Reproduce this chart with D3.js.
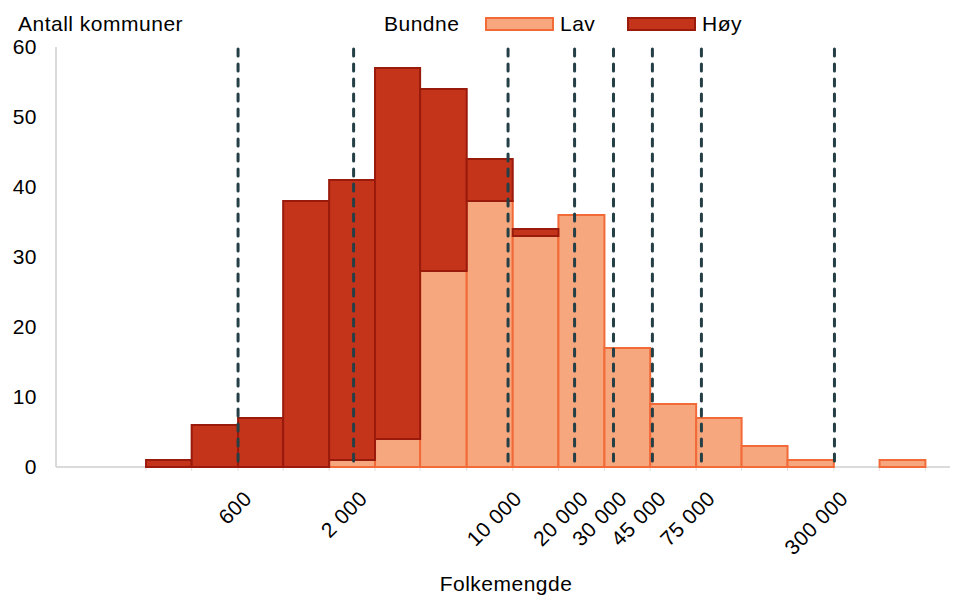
<!DOCTYPE html>
<html>
<head>
<meta charset="utf-8">
<script src="https://cdn.jsdelivr.net/npm/d3@7"></script>
<style>
  body { margin: 0; background: #fff; }
  text { font-family: "Liberation Sans", Arial, sans-serif; fill: #000; letter-spacing: 0.5px; }
</style>
</head>
<body>
<div id="chart"></div>
<script>
// bin edges (folkemengde), one more than the number of bins
const binEdges = [230, 370, 600, 960, 1550, 2500, 4000, 6500, 10500, 16900,
  27300, 44000, 71000, 114000, 184000, 298000, 480000, 774000];
// antall kommuner per bin
const lav = [0, 0, 0, 0, 1, 4, 28, 38, 33, 36, 17, 9, 7, 3, 1, 0, 1];
const hoy = [1, 6, 7, 38, 40, 53, 26, 6, 1, 0, 0, 0, 0, 0, 0, 0, 0];
const cutoffs = [600, 2000, 10000, 20000, 30000, 45000, 75000, 300000];
const cutoffLabels = ["600", "2 000", "10 000", "20 000", "30 000", "45 000", "75 000", "300 000"];
const yTicks = [0, 10, 20, 30, 40, 50, 60];

const width = 958, height = 597;
const margins = { top: 47, bottom: 130, left: 56, right: 8 };
const fontSize = 21;

const svg = d3.select("#chart").append("svg")
  .attr("width", width)
  .attr("height", height);

const xScale = d3.scaleLog()
  .domain([90, 1000000])
  .range([margins.left, width - margins.right]);

const yScale = d3.scaleLinear()
  .domain([0, 60])
  .range([height - margins.bottom, margins.top]);

const bins = lav.map((d, i) => ({
  x0: binEdges[i], x1: binEdges[i + 1], lav: d, hoy: hoy[i]
}));

// y axis
svg.append("line")
  .attr("x1", margins.left).attr("x2", margins.left)
  .attr("y1", yScale(60)).attr("y2", yScale(0))
  .attr("stroke", "#cfcfcf").attr("stroke-width", 1.5);

svg.selectAll(".ytick")
  .data(yTicks)
  .join("text")
  .attr("class", "ytick")
  .attr("x", 37)
  .attr("y", d => yScale(d))
  .attr("dy", "0.35em")
  .attr("text-anchor", "end")
  .attr("font-size", fontSize)
  .text(d => d);

svg.append("text")
  .attr("x", 18).attr("y", 31)
  .attr("font-size", fontSize)
  .text("Antall kommuner");

// x axis
svg.append("line")
  .attr("x1", margins.left).attr("x2", width - margins.right)
  .attr("y1", yScale(0)).attr("y2", yScale(0))
  .attr("stroke", "#cfcfcf").attr("stroke-width", 1.5);

svg.selectAll(".xtick")
  .data(binEdges)
  .join("line")
  .attr("class", "xtick")
  .attr("x1", d => xScale(d)).attr("x2", d => xScale(d))
  .attr("y1", yScale(0)).attr("y2", yScale(0) + 4)
  .attr("stroke", "#e0e0e0");

// bars: lav at the bottom, høy stacked on top
svg.selectAll(".lav")
  .data(bins.filter(d => d.lav > 0))
  .join("rect")
  .attr("class", "lav")
  .attr("x", d => xScale(d.x0))
  .attr("width", d => xScale(d.x1) - xScale(d.x0))
  .attr("y", d => yScale(d.lav))
  .attr("height", d => yScale(0) - yScale(d.lav))
  .attr("fill", "#f7a77e")
  .attr("stroke", "#f26a38")
  .attr("stroke-width", 2);

svg.selectAll(".hoy")
  .data(bins.filter(d => d.hoy > 0))
  .join("rect")
  .attr("class", "hoy")
  .attr("x", d => xScale(d.x0))
  .attr("width", d => xScale(d.x1) - xScale(d.x0))
  .attr("y", d => yScale(d.lav + d.hoy))
  .attr("height", d => yScale(d.lav) - yScale(d.lav + d.hoy))
  .attr("fill", "#c4341b")
  .attr("stroke", "#9a1a0c")
  .attr("stroke-width", 2);

// dashed cut-off lines
svg.selectAll(".cut")
  .data(cutoffs)
  .join("line")
  .attr("class", "cut")
  .attr("x1", d => xScale(d)).attr("x2", d => xScale(d))
  .attr("y1", yScale(60) + 2).attr("y2", yScale(0))
  .attr("stroke", "#253f46")
  .attr("stroke-width", 3)
  .attr("stroke-linecap", "round")
  .attr("stroke-dasharray", "7 8");

svg.selectAll(".cutlabel")
  .data(cutoffs)
  .join("text")
  .attr("class", "cutlabel")
  .attr("text-anchor", "end")
  .attr("font-size", fontSize)
  .attr("transform", d => `translate(${xScale(d) + 15},${yScale(0) + 33}) rotate(-45)`)
  .text((d, i) => cutoffLabels[i]);

svg.append("text")
  .attr("x", 506).attr("y", 591)
  .attr("text-anchor", "middle")
  .attr("font-size", fontSize)
  .text("Folkemengde");

// legend
const legend = svg.append("g");
legend.append("text").attr("x", 384).attr("y", 31).attr("font-size", fontSize).text("Bundne");
legend.append("rect").attr("x", 486).attr("y", 18).attr("width", 67).attr("height", 12)
  .attr("fill", "#f7a77e").attr("stroke", "#f26a38").attr("stroke-width", 2);
legend.append("text").attr("x", 560).attr("y", 31).attr("font-size", fontSize).text("Lav");
legend.append("rect").attr("x", 628).attr("y", 18).attr("width", 67).attr("height", 12)
  .attr("fill", "#c4341b").attr("stroke", "#9a1a0c").attr("stroke-width", 2);
legend.append("text").attr("x", 702).attr("y", 31).attr("font-size", fontSize).text("Høy");
</script>
</body>
</html>
